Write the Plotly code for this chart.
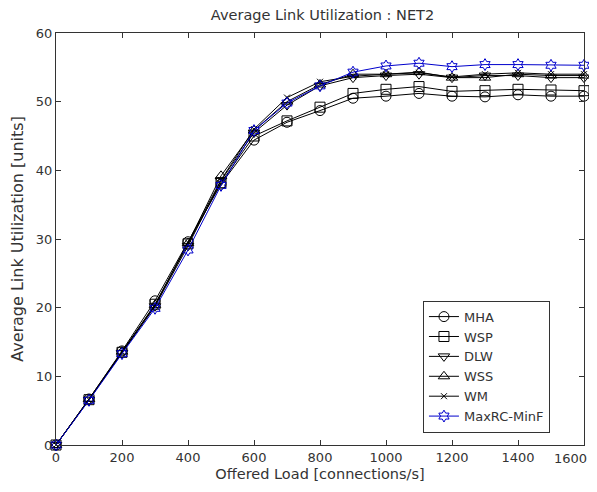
import plotly.graph_objects as go

# offered load (connections/s)
load = [0, 100, 200, 300, 400, 500, 600, 700, 800, 900, 1000, 1100, 1200, 1300, 1400, 1500, 1600]

mha = [0, 6.7, 13.7, 21.0, 29.6, 38.0, 44.4, 47.0, 48.7, 50.5, 50.8, 51.2, 50.8, 50.7, 51.0, 50.8, 50.8]
wsp = [0, 6.6, 13.5, 20.5, 29.3, 38.2, 45.0, 47.2, 49.2, 51.2, 51.8, 52.2, 51.5, 51.6, 51.8, 51.7, 51.6]
dlw = [0, 6.6, 13.4, 20.2, 29.0, 38.5, 45.5, 49.5, 52.3, 53.5, 53.8, 54.0, 53.5, 53.8, 53.8, 53.5, 53.5]
wss = [0, 6.7, 13.6, 20.4, 29.4, 39.2, 45.8, 50.0, 52.5, 54.0, 54.0, 54.3, 53.5, 53.5, 54.0, 53.8, 53.8]
wm = [0, 6.6, 13.5, 20.3, 29.5, 38.6, 46.0, 50.6, 52.9, 53.7, 54.0, 54.2, 53.6, 54.0, 54.2, 54.0, 54.0]
maxrc = [0, 6.5, 13.3, 19.9, 28.4, 37.8, 45.8, 49.8, 52.3, 54.3, 55.2, 55.6, 55.1, 55.4, 55.4, 55.3, 55.3]

x_ticks = [0, 200, 400, 600, 800, 1000, 1200, 1400]
last_tick = 1600

series = [
    ("MHA", mha, "circle-open", "black", 10),
    ("WSP", wsp, "square-open", "black", 10),
    ("DLW", dlw, "triangle-down-open", "black", 10),
    ("WSS", wss, "triangle-up-open", "black", 10),
    ("WM", wm, "x-thin-open", "black", 6),
    ("MaxRC-MinF", maxrc, "hexagram-open", "#0000cc", 9),
]

TXT = "#333"
WIDE = "DejaVu Sans, Verdana, sans-serif"

fig = go.Figure()
for name, vals, sym, col, sz in series:
    fig.add_trace(go.Scatter(
        x=load, y=vals, name=name, mode="lines+markers", cliponaxis=False,
        line=dict(color=col, width=1),
        marker=dict(symbol=sym, size=sz, color=col, line=dict(color=col, width=1)),
    ))

axis_common = dict(
    showline=True, linecolor="#333", linewidth=1, mirror="ticks",
    ticks="inside", ticklen=5, tickcolor="#333", showgrid=False, zeroline=False,
    automargin=False,
    tickfont=dict(family=WIDE, size=13, color=TXT),
)

# the 1600 label would run past the page edge, so it is drawn nudged left
fig.add_annotation(x=last_tick, y=0, xref="x", yref="paper", text=str(last_tick),
                   showarrow=False, xanchor="right", yanchor="top",
                   xshift=5, yshift=-4,
                   font=dict(family=WIDE, size=13, color=TXT))

# page body has an 8px margin, so the figure is 8px smaller than the window
fig.update_layout(
    width=589, height=484,
    paper_bgcolor="white", plot_bgcolor="white",
    margin=dict(l=48, r=13, t=25, b=47),
    title=dict(text="Average Link Utilization : NET2", x=0.534, xanchor="center",
               y=0.986, yanchor="middle",
               font=dict(family=WIDE, size=14.5, color=TXT)),
    xaxis=dict(range=[0, 1600], tickvals=x_ticks + [last_tick],
               ticktext=[str(t) for t in x_ticks] + [""],
               title=dict(text="Offered Load [connections/s]", standoff=5,
                          font=dict(family=WIDE, size=14.5, color=TXT)),
               **axis_common),
    yaxis=dict(range=[0, 60], dtick=10,
               title=dict(text="Average Link Utilization [units]", standoff=14,
                          font=dict(family=WIDE, size=16, color=TXT)),
               **axis_common),
    legend=dict(x=0.695, y=0.03, xanchor="left", yanchor="bottom",
                bgcolor="white", bordercolor="#333", borderwidth=1,
                font=dict(family=WIDE, size=13, color=TXT),
                tracegroupgap=0, itemwidth=30),
    showlegend=True,
)

fig.write_html("out.html")
